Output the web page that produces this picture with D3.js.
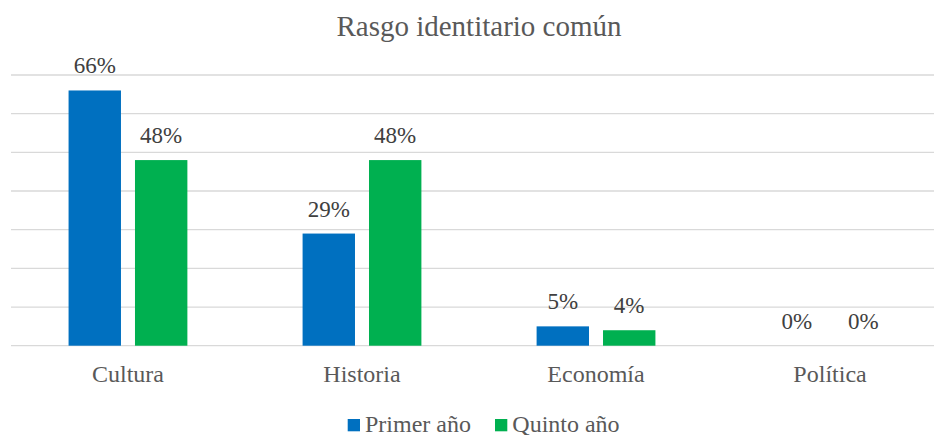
<!DOCTYPE html>
<html>
<head>
<meta charset="utf-8">
<script src="https://cdn.jsdelivr.net/npm/d3@7"></script>
<style>
  html, body { margin: 0; padding: 0; background: #fff; }
  svg { display: block; }
</style>
</head>
<body>
<svg id="chart" width="934" height="435"></svg>
<script>
const title = "Rasgo identitario común";
const categories = ["Cultura", "Historia", "Economía", "Política"];
const seriesNames = ["Primer año", "Quinto año"];
const primerAnio = [66, 29, 5, 0];
const quintoAnio = [48, 48, 4, 0];
const yTicks = [0, 10, 20, 30, 40, 50, 60, 70];
const colors = ["#0070C0", "#00B050"];

(function () {
const FONT = "'Liberation Serif', 'DejaVu Serif', serif";
const svg = d3.select("#chart");
const W = 934, H = 435;
const mLeft = 11, mRight = 947, mTop = 75, mBottom = 345.7;

const x0 = d3.scaleBand().domain(categories).range([mLeft, mRight])
  .paddingInner(0.4923).paddingOuter(0.246);
const x1 = d3.scaleBand().domain(seriesNames).range([0, x0.bandwidth()])
  .paddingInner(0.211).paddingOuter(0);
const y = d3.scaleLinear().domain([0, 70]).range([mBottom, mTop]);

const data = categories.map((c, i) => ({ cat: c, vals: [primerAnio[i], quintoAnio[i]] }));

// gridlines
svg.append("g").selectAll("line").data(yTicks).join("line")
  .attr("x1", mLeft).attr("x2", W)
  .attr("y1", d => y(d)).attr("y2", d => y(d))
  .attr("stroke", "#d9d9d9").attr("stroke-width", 1.3);

// bars
const groups = svg.append("g").selectAll("g").data(data).join("g")
  .attr("transform", d => `translate(${x0(d.cat)},0)`);
groups.selectAll("rect").data(d => d.vals.map((v, j) => ({ s: seriesNames[j], v, j })))
  .join("rect")
  .attr("x", d => x1(d.s))
  .attr("width", x1.bandwidth())
  .attr("y", d => y(d.v))
  .attr("height", d => y(0) - y(d.v))
  .attr("fill", d => colors[d.j]);

// data labels
groups.selectAll("text").data(d => d.vals.map((v, j) => ({ s: seriesNames[j], v, j })))
  .join("text")
  .attr("x", d => x1(d.s) + x1.bandwidth() / 2)
  .attr("y", d => y(d.v) - 17)
  .attr("text-anchor", "middle")
  .style("font-family", FONT)
  .style("font-size", "23px")
  .style("fill", "#404040")
  .text(d => d.v + "%");

// category axis labels
const xAxis = d3.axisBottom(x0).tickSize(0).tickPadding(0);
const ax = svg.append("g").attr("transform", `translate(0,${mBottom})`).call(xAxis);
ax.select(".domain").remove();
ax.selectAll("text")
  .attr("dy", null)
  .attr("y", 36.5)
  .style("font-family", FONT)
  .style("font-size", "24px")
  .style("fill", "#595959");

// title
svg.append("text")
  .attr("x", (mLeft + mRight) / 2)
  .attr("y", 36)
  .attr("text-anchor", "middle")
  .style("font-family", FONT)
  .style("font-size", "29px")
  .style("fill", "#595959")
  .text(title);

// legend
const legend = svg.append("g");
const legX = [347.7, 495];
seriesNames.forEach((s, i) => {
  legend.append("rect")
    .attr("x", legX[i]).attr("y", 419)
    .attr("width", 12.3).attr("height", 12.3)
    .attr("fill", colors[i]);
  legend.append("text")
    .attr("x", legX[i] + 17.3).attr("y", 431.5)
    .style("font-family", FONT)
    .style("font-size", "24px")
    .style("fill", "#595959")
    .text(s);
});
})();
</script>
</body>
</html>
